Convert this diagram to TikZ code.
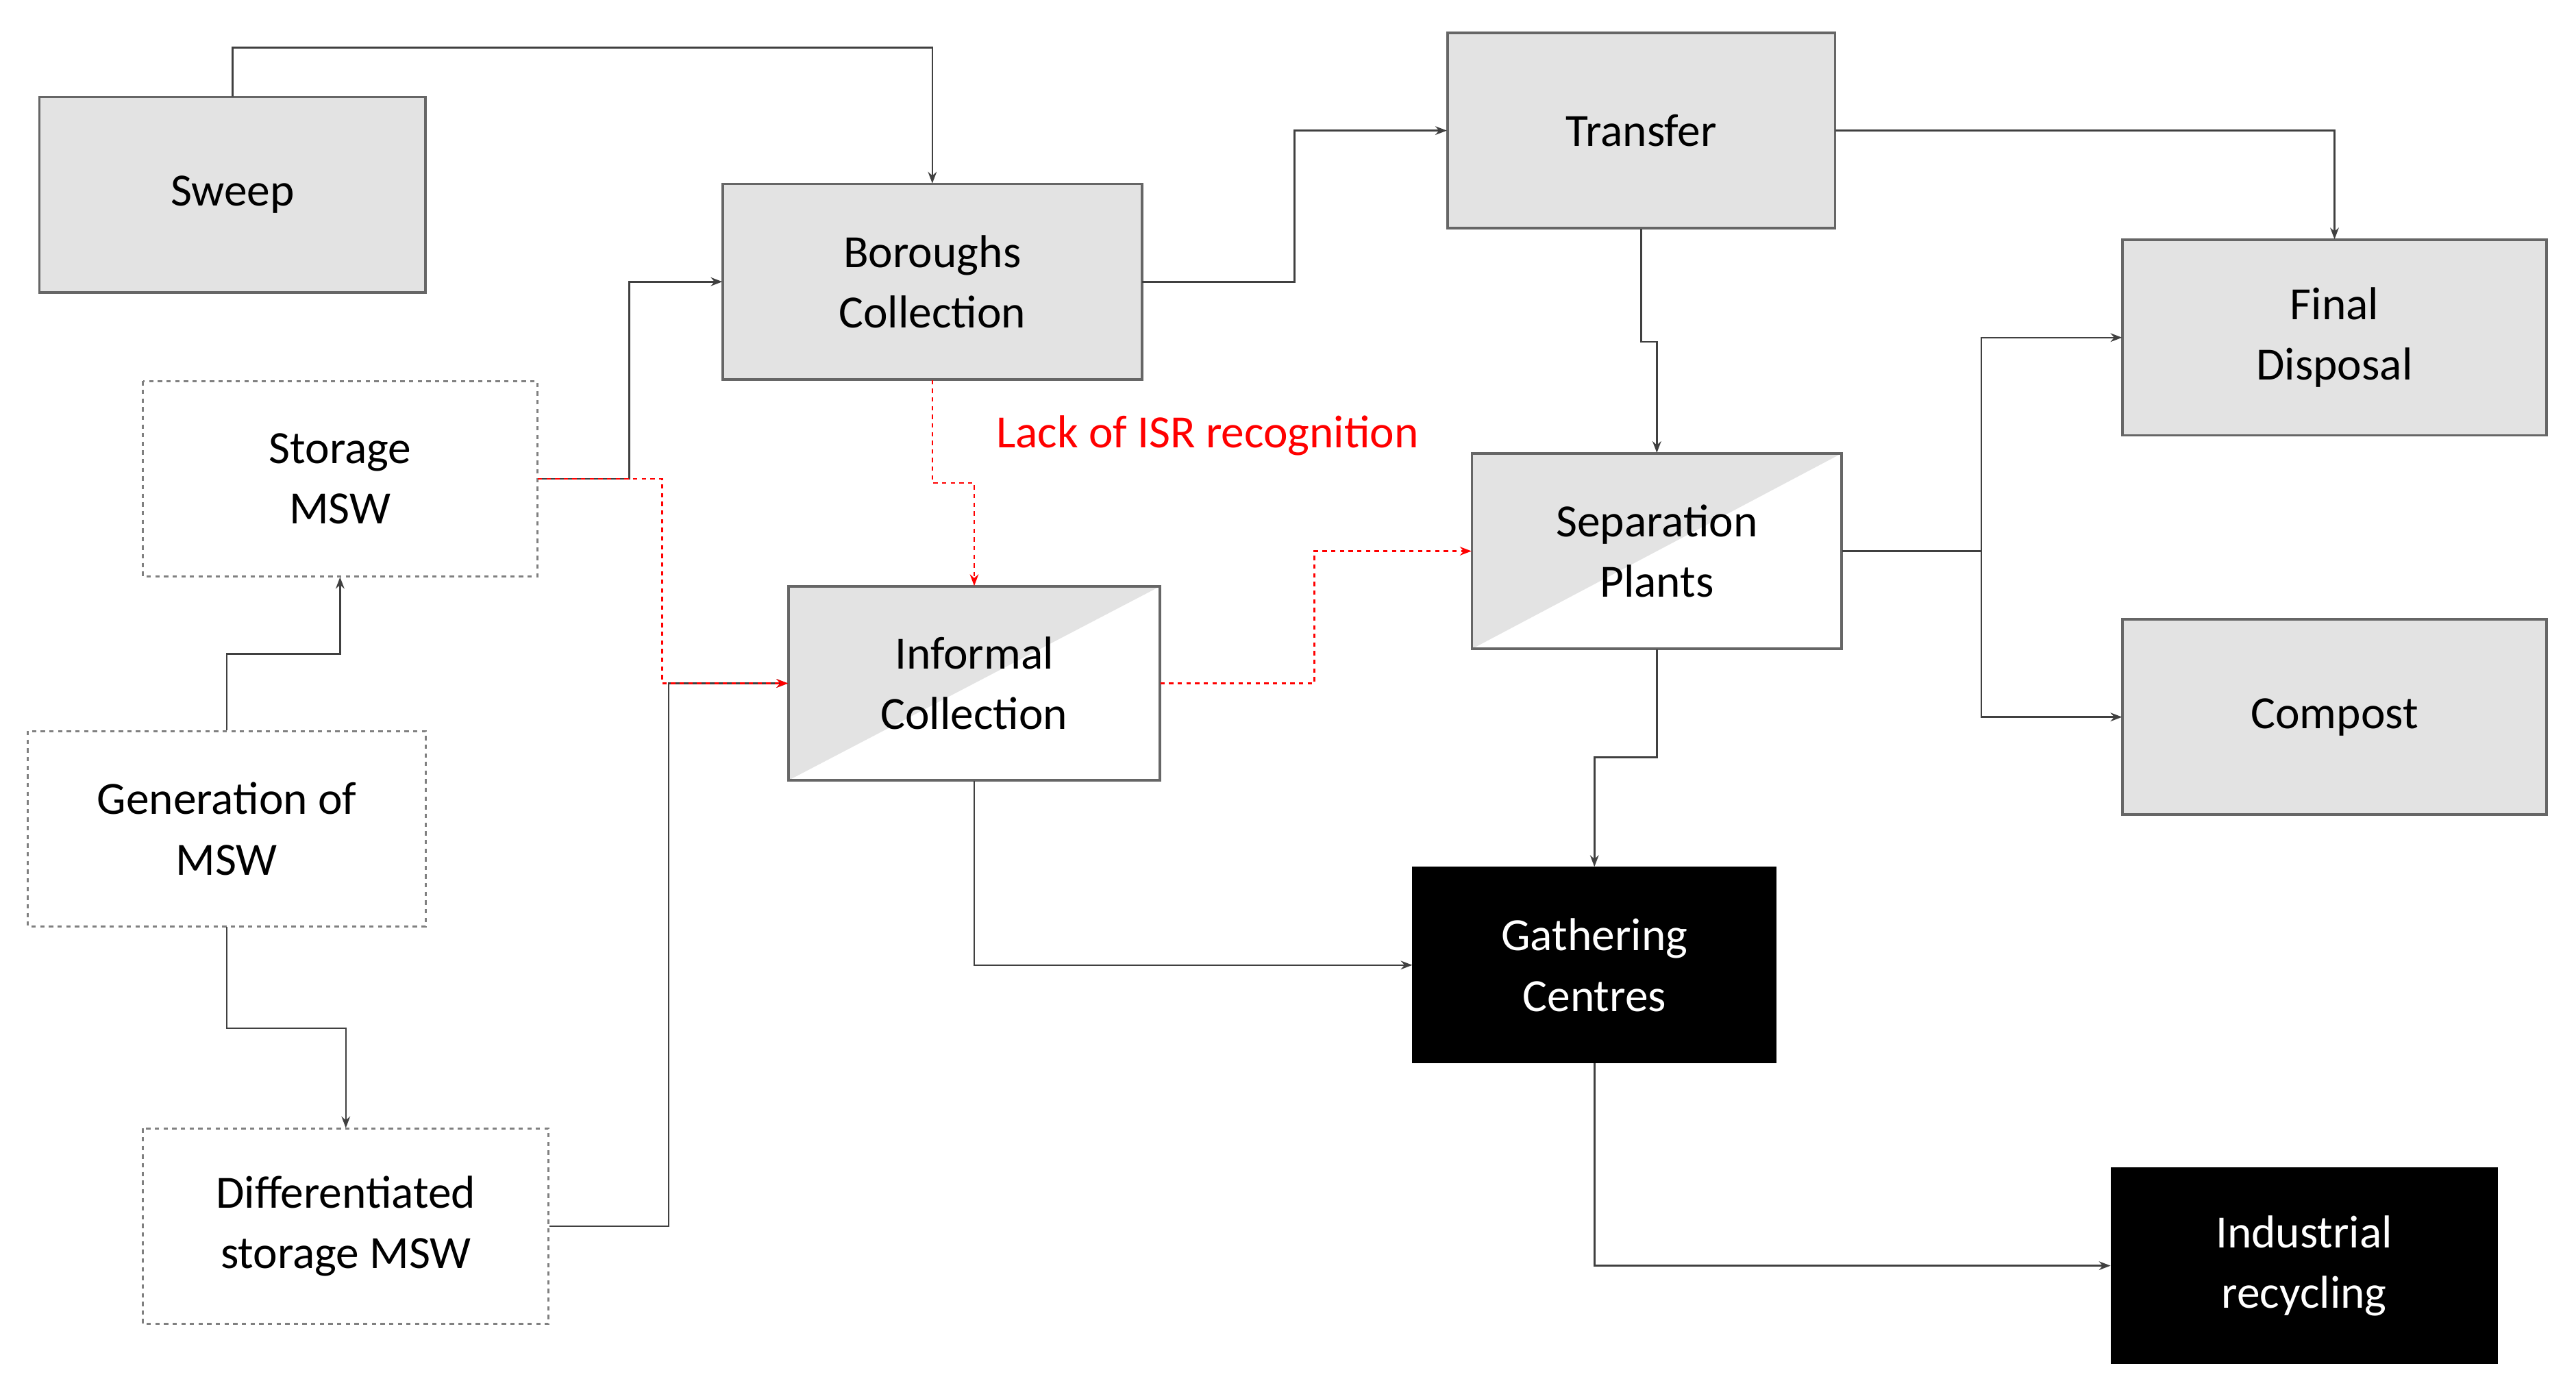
\documentclass[tikz,border=0pt]{standalone}
\usepackage{fontspec}
\setmainfont{Carlito}
\usetikzlibrary{arrows.meta}
\begin{document}
\begin{tikzpicture}[x=0.02cm,y=-0.02cm,
  every node/.style={font=\fontsize{16}{21}\selectfont, align=center, inner sep=0pt},
  gbox/.style={draw=gray!80!black, line width=0.9pt, fill=black!11},
  dbox/.style={draw=gray, dashed, dash pattern=on 1.5pt off 1.5pt, line width=0.7pt, fill=white},
  kbox/.style={draw=black, fill=black, text=white},
  con/.style={draw=black!75, line width=0.6pt, -{Stealth[length=4pt,width=3pt]}},
  red/.style={draw=red, line width=0.6pt, dash pattern=on 1.5pt off 1.5pt, -{Stealth[length=4pt,width=3pt]}}]
\useasboundingbox (0,0) rectangle (1568,847);
\newcommand{\bx}[6]{\path[#6] (#1,#2) rectangle (#3,#4); \node (#5) at ({(#1+#3)/2},{(#2+#4)/2}) [minimum width={(#3-#1)*0.02cm}, minimum height={(#4-#2)*0.02cm}] {};}
% boxes
\path[gbox] (24,59) rectangle (259,178); \node (sweep) [minimum width=4.7cm,minimum height=2.38cm] at (141.5,118.5) {Sweep};
\path[gbox] (440,112) rectangle (695,231); \node (bor) [minimum width=5.1cm,minimum height=2.38cm] at (567.5,171.5) {Boroughs\\Collection};
\path[gbox] (881,20) rectangle (1117,139); \node (tra) [minimum width=4.72cm,minimum height=2.38cm] at (999,79.5) {Transfer};
\path[gbox] (1292,146) rectangle (1550,265); \node (fin) [minimum width=5.16cm,minimum height=2.38cm] at (1421,205.5) {Final\\Disposal};
\path[gbox] (1292,377) rectangle (1550,496); \node (com) [minimum width=5.16cm,minimum height=2.38cm] at (1421,436.5) {Compost};
\path[dbox] (87,232) rectangle (327,351); \node (sto) [minimum width=4.8cm,minimum height=2.38cm] at (207,291.5) {Storage\\MSW};
\path[dbox] (17,445) rectangle (259,564); \node (gen) [minimum width=4.84cm,minimum height=2.38cm] at (138,504.5) {Generation of\\MSW};
\path[dbox] (87,687) rectangle (334,806); \node (dif) [minimum width=4.94cm,minimum height=2.38cm] at (210.5,746.5) {Differentiated\\storage MSW};
% half-shaded boxes
\fill[white] (480,357) rectangle (706,475);
\fill[black!11] (480,357) -- (706,357) -- (480,475) -- cycle;
\draw[gray!80!black, line width=0.9pt] (480,357) rectangle (706,475);
\node (inf) [minimum width=4.52cm,minimum height=2.36cm] at (593,416) {Informal\\Collection};
\fill[white] (896,276) rectangle (1121,395);
\fill[black!11] (896,276) -- (1121,276) -- (896,395) -- cycle;
\draw[gray!80!black, line width=0.9pt] (896,276) rectangle (1121,395);
\node (sep) [minimum width=4.5cm,minimum height=2.38cm] at (1008.5,335.5) {Separation\\Plants};
\path[kbox] (860,528) rectangle (1081,647); \node (gat) [text=white,minimum width=4.42cm,minimum height=2.38cm] at (970.5,587.5) {Gathering\\Centres};
\path[kbox] (1285,711) rectangle (1520,830); \node (ind) [text=white,minimum width=4.7cm,minimum height=2.38cm] at (1402.5,770.5) {Industrial\\recycling};
% connectors
\draw[con] (sweep.north) -- (141.5,29) -| (bor.north);
\draw[con] (sto.east) -- (383,291.5) |- (bor.west);
\draw[con] (dif.east) -- (407,746.5) |- (inf.west);
\draw[red] (sto.east) -- (403,291.5) |- (inf.west);
\draw[con] (gen.north) -- (138,398) -| (sto.south);
\draw[con] (gen.south) -- (138,626) -| (dif.north);
\draw[con] (bor.east) -- (788,171.5) |- (tra.west);
\draw[red] (bor.south) -- (567.5,294) -| (inf.north);
\node[text=red, anchor=west] (lack) at (606,265) {Lack of ISR recognition};
\draw[red] (inf.east) -- (800,416) |- (sep.west);
\draw[con] (tra.east) -| (fin.north);
\draw[con] (tra.south) -- (999,208) -| (sep.north);
\draw[con] (sep.east) -- (1206,335.5) |- (fin.west);
\draw[con] (sep.east) -- (1206,335.5) |- (com.west);
\draw[con] (sep.south) -- (1008.5,461) -| (gat.north);
\draw[con] (inf.south) |- (gat.west);
\draw[con] (gat.south) |- (ind.west);
\end{tikzpicture}
\end{document}
